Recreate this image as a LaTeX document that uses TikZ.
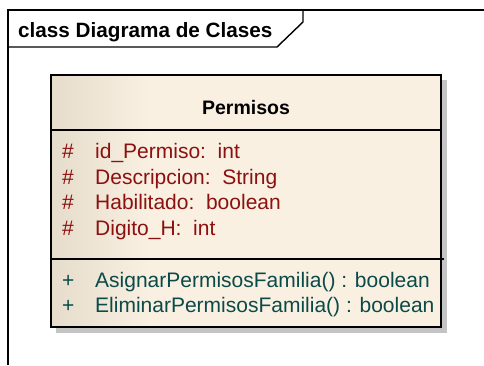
\documentclass[tikz,border=0pt]{standalone}
\usepackage{fontspec}
\setmainfont{Liberation Sans}
\definecolor{attrcol}{HTML}{8B1010}
\definecolor{opcol}{HTML}{0A4A48}
\definecolor{fillL}{HTML}{E6DCCB}
\definecolor{fillR}{HTML}{FAF0E2}
\definecolor{shadowcol}{HTML}{C4C4C4}
\begin{document}
\begin{tikzpicture}[x=1pt,y=-1pt,
  frameline/.style={line width=1.4pt,black},
  boxline/.style={line width=1.6pt,black},
  attr/.style={anchor=base west,inner sep=0pt,text=attrcol,font=\fontsize{21}{24}\selectfont},
  op/.style={anchor=base west,inner sep=0pt,text=opcol,font=\fontsize{21}{24}\selectfont},
  vis/.style={anchor=base west,inner sep=0pt,font=\fontsize{21}{24}\selectfont}]
\useasboundingbox (0,0) rectangle (484,365);
% frame
\draw[frameline] (8,365) -- (8,10) -- (484,10);
\draw[frameline] (8,47) -- (277,47) -- (303,22) -- (303,10);
\node[anchor=base west,inner sep=0pt,font=\bfseries\fontsize{20.7}{24}\selectfont] (title) at (18,37) {class Diagrama de Clases};
% shadow
\fill[shadowcol] (56,80) rectangle (447,333);
% class box
\fill[fillR] (150,75) rectangle (441,327);
\shade[left color=fillL,right color=fillR] (51,75) rectangle (150,327);
\draw[boxline] (51,75) rectangle (441,327);
\draw[boxline] (51,130) -- (441,130);
\draw[boxline] (51,259) -- (444,259);
\node[anchor=base,inner sep=0pt,font=\bfseries\fontsize{19.5}{24}\selectfont] (cname) at (246,114) {Permisos};
% attributes
\node[vis,text=attrcol] (v1) at (62,158.5) {\#};
\node[attr] (a1) at (95,158.5) {id\_Permiso:\ \ int};
\node[vis,text=attrcol] (v2) at (62,184) {\#};
\node[attr] (a2) at (95,184) {Descripcion:\ \ String};
\node[vis,text=attrcol] (v3) at (62,209.5) {\#};
\node[attr] (a3) at (95,209.5) {Habilitado:\ \ boolean};
\node[vis,text=attrcol] (v4) at (62,235) {\#};
\node[attr] (a4) at (95,235) {Digito\_H:\ \ int};
% operations
\node[vis,text=opcol] (v5) at (62,287) {+};
\node[op] (o1) at (95,287) {AsignarPermisosFamilia() : boolean};
\node[vis,text=opcol] (v6) at (62,312.5) {+};
\node[op] (o2) at (95,312.5) {EliminarPermisosFamilia() : boolean};
\end{tikzpicture}
\end{document}
